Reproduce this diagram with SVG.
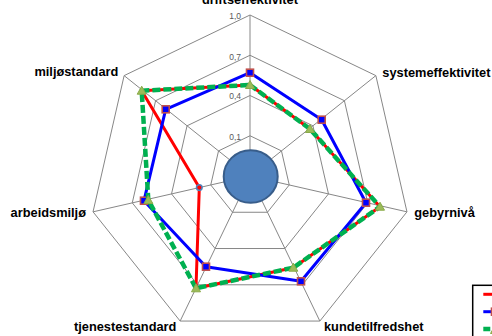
<svg xmlns="http://www.w3.org/2000/svg" width="492" height="336" viewBox="0 0 492 336">
<style>
.grid{fill:none;stroke:#878787;stroke-width:1}
.lbl{font-family:"Liberation Sans",Arial,sans-serif;font-weight:bold;font-size:12.8px;fill:#000}
.tick{font-family:"Liberation Sans",Arial,sans-serif;font-size:8.5px;fill:#595959;text-anchor:end}
.red{fill:none;stroke:#FF0000;stroke-width:3;stroke-linejoin:round}
.blue{fill:none;stroke:#0000FF;stroke-width:3;stroke-linejoin:round}
.green{fill:none;stroke:#00B050;stroke-width:4.5;stroke-dasharray:8 3;stroke-linejoin:round}
.sq{fill:#0000FF;stroke:#C0504D;stroke-width:1.6}
.tri{fill:#9BBB59;stroke:#8AAA48;stroke-width:1}
</style>
<defs>
<rect id="sqm" x="-3.5" y="-3.5" width="7" height="7" class="sq"/>
<polygon id="trim" points="0,-4.5 4.5,3.5 -4.5,3.5" class="tri"/>
</defs>
<rect width="492" height="336" fill="#fff"/>
<g id="grid">
<polygon class="grid" points="250,135.75 281.47,150.9 289.24,184.96 267.46,212.26 232.54,212.26 210.76,184.96 218.53,150.9"/>
<polygon class="grid" points="250,95.5 312.94,125.81 328.48,193.91 284.93,248.53 215.07,248.53 171.52,193.91 187.06,125.81"/>
<polygon class="grid" points="250,55.25 344.4,100.71 367.72,202.87 302.39,284.79 197.61,284.79 132.28,202.87 155.6,100.71"/>
<polygon class="grid" points="250,15 375.87,75.62 406.96,211.83 319.85,321.06 180.15,321.06 93.04,211.83 124.13,75.62"/>
<path class="grid" d="M250,176L250,15M250,176L375.87,75.62M250,176L406.96,211.83M250,176L319.85,321.06M250,176L180.15,321.06M250,176L93.04,211.83M250,176L124.13,75.62"/>
</g>
<g id="ticks">
<text class="tick" x="241" y="19">1,0</text>
<text class="tick" x="241" y="59.5">0,7</text>
<text class="tick" x="241" y="99">0,4</text>
<text class="tick" x="241" y="139.5">0,1</text>
</g>
<g id="connectors">
<polygon id="series-red" class="red" points="250,85 310,129 380,206.7 293.3,267.7 196,288.3 199.3,187.6 141.7,90.7"/>
<polygon id="series-blue" class="blue" points="250,72.7 321.7,119.7 366,202.7 301,281.3 206,266.7 144,200.7 165.7,109.3"/>
<circle cx="199.3" cy="187.6" r="2.8" fill="#FF0000" stroke="#4F81BD" stroke-width="1.5"/>
<g id="blue-markers">
<use href="#sqm" x="250" y="72.7"/>
<use href="#sqm" x="321.7" y="119.7"/>
<use href="#sqm" x="366" y="202.7"/>
<use href="#sqm" x="301" y="281.3"/>
<use href="#sqm" x="206" y="266.7"/>
<use href="#sqm" x="144" y="200.7"/>
<use href="#sqm" x="165.7" y="109.3"/>
</g>
<polygon id="series-green" class="green" points="250,85 310,129 380,206.7 293.3,267.7 196,288.3 148.3,200 141.7,90.7"/>
<g id="green-markers">
<use href="#trim" x="250" y="85"/>
<use href="#trim" x="310" y="129"/>
<use href="#trim" x="380" y="206.7"/>
<use href="#trim" x="293.3" y="267.7"/>
<use href="#trim" x="196" y="288.3"/>
<use href="#trim" x="148.3" y="200"/>
<use href="#trim" x="141.7" y="90.7"/>
</g>
</g>
<g id="center">
<ellipse cx="250.7" cy="176.5" rx="27" ry="26.3" fill="#4F81BD" stroke="#385D8A" stroke-width="2"/>
</g>
<g id="labels">
<text class="lbl" x="250" y="4" text-anchor="middle">driftseffektivitet</text>
<text class="lbl" x="382.3" y="77">systemeffektivitet</text>
<text class="lbl" x="414.3" y="217">gebyrnivå</text>
<text class="lbl" x="324" y="331">kundetilfredshet</text>
<text class="lbl" x="74" y="331">tjenestestandard</text>
<text class="lbl" x="86" y="217.3" text-anchor="end">arbeidsmiljø</text>
<text class="lbl" x="118.3" y="76" text-anchor="end">miljøstandard</text>
</g>
<g id="legend">
<rect x="472.7" y="285.3" width="40" height="60" fill="#fff" stroke="#000" stroke-width="1.5"/>
<line x1="483.3" y1="294.3" x2="495" y2="294.3" stroke="#FF0000" stroke-width="3"/>
<line x1="483.3" y1="311.7" x2="495" y2="311.7" stroke="#0000FF" stroke-width="3"/>
<use href="#sqm" x="495" y="311.7"/>
<line x1="483.3" y1="329" x2="497" y2="329" stroke="#00B050" stroke-width="4.5" stroke-dasharray="7 3"/>
<use href="#trim" x="495" y="330"/>
</g>
</svg>
